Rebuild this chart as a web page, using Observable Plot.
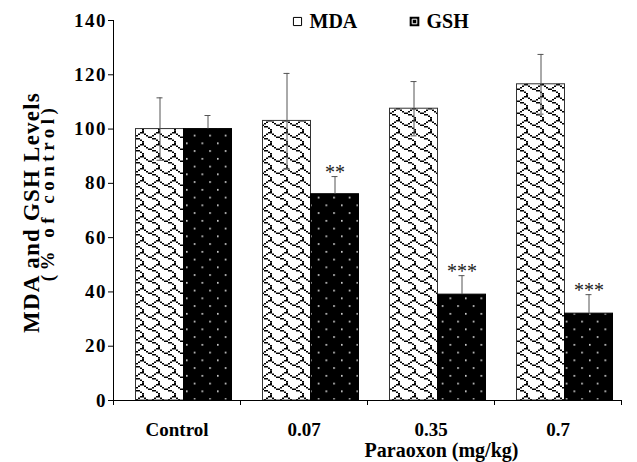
<!DOCTYPE html>
<html><head><meta charset="utf-8">
<script src="https://cdn.jsdelivr.net/npm/d3@7"></script>
<script src="https://cdn.jsdelivr.net/npm/@observablehq/plot@0.6"></script>
<style>
body{margin:0;background:#fff;}
#wrap{position:relative;width:637px;height:462px;}
</style></head><body><div id="wrap"></div>
<script>
// ---- data ----
const categories = ["Control", "0.07", "0.35", "0.7"];
const mdaMean = [100, 103, 107.5, 116.5];
const mdaErr  = [11.5, 17.5, 10, 11];
const gshMean = [100, 76, 39, 32];
const gshErr  = [5, 6.5, 7, 7];
const gshSig  = ["", "**", "***", "***"];
const yTicks  = [0, 20, 40, 60, 80, 100, 120, 140];
const seriesNames = ["MDA", "GSH"];
const yLabel1 = "MDA and GSH Levels";
const yLabel2 = "(% of control)";
const xLabel  = "Paraoxon (mg/kg)";

const mda = categories.map((c, i) => ({cat: c, v: mdaMean[i], e: mdaErr[i]}));
const gsh = categories.map((c, i) => ({cat: c, v: gshMean[i], e: gshErr[i], s: gshSig[i]}));

const BW = 127; // band width in px
const errColor = "#555";

const svg = Plot.plot({
  width: 637, height: 462,
  marginLeft: 113, marginRight: 16, marginTop: 20, marginBottom: 62,
  style: {fontFamily: '"Liberation Serif", "Times New Roman", serif', fontSize: "19px", fontWeight: "bold", background: "white", color: "black", overflow: "visible"},
  x: {domain: categories, padding: 0, axis: null, label: null},
  y: {domain: [0, 140], axis: null, label: null},
  marks: [
    Plot.barY(mda, {x: "cat", y: "v", fill: "url(#pMDA)", stroke: "#333", strokeWidth: 1, insetLeft: 22.5, insetRight: 56.5}),
    Plot.barY(gsh, {x: "cat", y: "v", fill: "url(#pGSH)", stroke: "black", strokeWidth: 1, insetLeft: 70.5, insetRight: 8.5}),
    // error bars
    Plot.ruleX(mda, {x: "cat", y1: d => d.v - d.e, y2: d => d.v + d.e, dx: -17, stroke: errColor}),
    Plot.tickY(mda, {x: "cat", y: d => d.v + d.e, insetLeft: 43.5, insetRight: 77.5, stroke: errColor}),
    Plot.tickY(mda, {x: "cat", y: d => d.v - d.e, insetLeft: 43.5, insetRight: 77.5, stroke: errColor}),
    Plot.ruleX(gsh, {x: "cat", y1: "v", y2: d => d.v + d.e, dx: 31, stroke: errColor}),
    Plot.tickY(gsh, {x: "cat", y: d => d.v + d.e, insetLeft: 91.5, insetRight: 29.5, stroke: errColor}),
    Plot.text(gsh, {x: "cat", y: d => d.v + d.e, text: "s", dx: 31, dy: 2, lineAnchor: "bottom", fontWeight: "normal", fontSize: 20, fill: "#222"}),
    // axes
    Plot.ruleY([0], {stroke: "black"}),
    Plot.ruleX([categories[0]], {dx: -BW / 2, stroke: "black"}),
    Plot.axisY({ticks: yTicks, tickSize: 5, tickPadding: 1.5, tickFormat: d => String(d), fontSize: 19}),
    Plot.axisX({tickSize: 5, tickFormat: () => "", dx: -BW / 2, label: null}),
    Plot.axisX({ticks: [categories[3]], tickSize: 5, tickFormat: () => "", dx: BW / 2, label: null}),
    Plot.axisX({tickSize: 0, tickPadding: 22, label: null, fontSize: 19}),
    // axis titles
    Plot.text([xLabel], {frameAnchor: "bottom", text: d => d, dx: 74, dy: 50, textAnchor: "middle", lineAnchor: "middle", fontSize: 20}),
    Plot.text([yLabel1], {frameAnchor: "left", text: d => d, rotate: -90, dx: -82, dy: 2, textAnchor: "middle", lineAnchor: "middle", fontSize: 23}),
    Plot.text([yLabel2], {frameAnchor: "left", text: d => d, rotate: -90, dx: -66, dy: -18, textAnchor: "middle", lineAnchor: "middle", fontSize: 19}),
    // legend
    Plot.dot([seriesNames[0]], {frameAnchor: "top-left", dx: 184, dy: 1, symbol: "square", r: 4.6, fill: "white", stroke: "black", strokeWidth: 1}),
    Plot.text([seriesNames[0]], {frameAnchor: "top-left", text: d => d, dx: 196, dy: 1, textAnchor: "start", lineAnchor: "middle", fontSize: 20}),
    Plot.dot([seriesNames[1]], {frameAnchor: "top-left", dx: 301, dy: 1, symbol: "square", r: 4.6, fill: "black", stroke: "black"}),
    Plot.dot([seriesNames[1]], {frameAnchor: "top-left", dx: 301, dy: 1, symbol: "square", r: 2.6, fill: "black", stroke: "white", strokeWidth: 1}),
    Plot.text([seriesNames[1]], {frameAnchor: "top-left", text: d => d, dx: 313, dy: 1, textAnchor: "start", lineAnchor: "middle", fontSize: 20})
  ]
});

// text spacing tweaks (Plot's text mark has no letter-spacing option)
const tickStrings = new Set(yTicks.map(String));
svg.querySelectorAll("text").forEach(t => {
  const s = t.textContent;
  if (s === yLabel1) t.style.letterSpacing = "1.2px";
  else if (s === yLabel2) t.style.letterSpacing = "4.5px";
  else if (tickStrings.has(s)) t.style.letterSpacing = "1.5px";
});

// shingle bitmap (8x8), drawn scaled 2 x 1.5
const shingle = ["......##", "#....#..", ".#..#...", "..##....", "....##..", "......#.", ".......#", ".......#"];
let cells = "";
shingle.forEach((row, r) => [...row].forEach((ch, c) => {
  if (ch === "#") cells += `<rect x="${c * 2}" y="${r * 1.5}" width="2" height="1.5" fill="black"/>`;
}));
const defs = `<svg xmlns="http://www.w3.org/2000/svg"><defs>
<pattern id="pGSH" patternUnits="userSpaceOnUse" width="15.5" height="15.5">
  <rect width="15.5" height="15.5" fill="black"/>
  <rect x="0" y="3" width="1.6" height="1.6" fill="#e6e6e6"/>
  <rect x="7.75" y="10.75" width="1.6" height="1.6" fill="#e6e6e6"/>
</pattern>
<pattern id="pMDA" patternUnits="userSpaceOnUse" width="16" height="12">
  <rect width="16" height="12" fill="white"/>
  ${cells}
</pattern>
</defs></svg>`;
const parsed = new DOMParser().parseFromString(defs, "image/svg+xml");
svg.insertBefore(document.importNode(parsed.documentElement.firstElementChild, true), svg.firstChild);
document.getElementById("wrap").appendChild(svg);
</script>
</body></html>
